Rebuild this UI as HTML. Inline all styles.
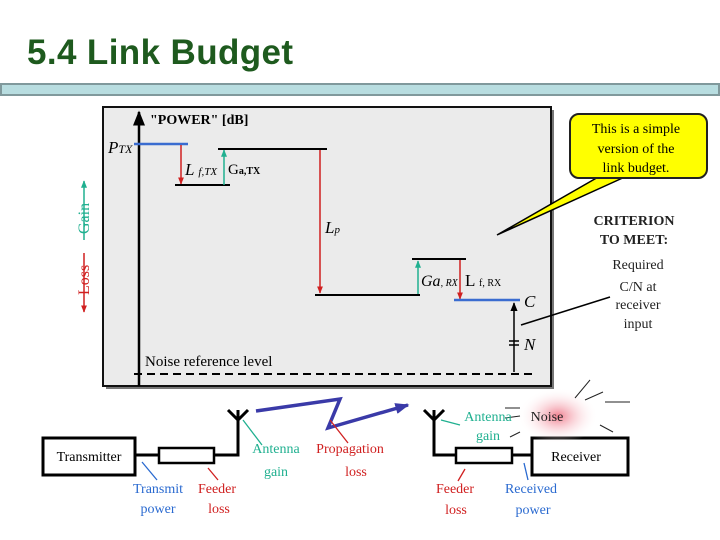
<!DOCTYPE html>
<html><head><meta charset="utf-8"><style>
body{margin:0;background:#fff;}
svg{display:block;font-family:"Liberation Serif",serif;}
</style></head><body>
<svg width="720" height="540" viewBox="0 0 720 540" xmlns="http://www.w3.org/2000/svg">
<defs>
<marker id="ar" viewBox="0 0 10 10" refX="9" refY="5" markerWidth="5" markerHeight="5" orient="auto"><path d="M0,1 L10,5 L0,9 z" fill="#d02020"/></marker>
<marker id="ag" viewBox="0 0 10 10" refX="9" refY="5" markerWidth="5" markerHeight="5" orient="auto"><path d="M0,1 L10,5 L0,9 z" fill="#20b090"/></marker>
<marker id="ak" viewBox="0 0 10 10" refX="9" refY="5" markerWidth="6" markerHeight="6" orient="auto"><path d="M0,1 L10,5 L0,9 z" fill="#000"/></marker>
<marker id="ab" viewBox="0 0 10 10" refX="9" refY="5" markerWidth="4" markerHeight="4" orient="auto"><path d="M0,1 L10,5 L0,9 z" fill="#3a3aa8"/></marker>
<radialGradient id="ng" cx="0.5" cy="0.5" r="0.5"><stop offset="0" stop-color="#f08090"/><stop offset="1" stop-color="#fff" stop-opacity="0"/></radialGradient>
</defs>
<text x="27" y="64" font-family="Liberation Sans,sans-serif" font-weight="bold" font-size="35" fill="#1e5a1e" textLength="266">5.4 Link Budget</text>
<rect x="1" y="84" width="718" height="11" fill="#b8dde0" stroke="#80999c" stroke-width="2"/>
<!-- main box -->
<rect x="106" y="110" width="448" height="279" fill="#777"/>
<rect x="103" y="107" width="448" height="279" fill="#ebebeb" stroke="#111" stroke-width="2"/>
<line x1="139" y1="386" x2="139" y2="112" stroke="#000" stroke-width="2.5" marker-end="url(#ak)"/>
<text x="150" y="124" font-size="14" font-weight="bold">"POWER" [dB]</text>
<text x="108" y="153" font-size="17" font-style="italic">P<tspan font-size="12">TX</tspan></text>
<line x1="134" y1="144" x2="188" y2="144" stroke="#3a6cd0" stroke-width="2.5"/>
<line x1="181" y1="145" x2="181" y2="184" stroke="#d02020" stroke-width="1.5" marker-end="url(#ar)"/>
<line x1="175" y1="185" x2="230" y2="185" stroke="#000" stroke-width="2"/>
<line x1="224" y1="185" x2="224" y2="150" stroke="#20b090" stroke-width="1.5" marker-end="url(#ag)"/>
<line x1="218" y1="149" x2="327" y2="149" stroke="#000" stroke-width="2"/>
<text x="185" y="175" font-size="17" font-style="italic">L <tspan font-size="11">f,TX</tspan></text>
<text x="228" y="174" font-size="15">G<tspan font-size="10" font-weight="bold">a,TX</tspan></text>
<line x1="320" y1="150" x2="320" y2="293" stroke="#d02020" stroke-width="1.5" marker-end="url(#ar)"/>
<text x="325" y="233" font-size="17" font-style="italic">L<tspan font-size="11">p</tspan></text>
<line x1="315" y1="295" x2="420" y2="295" stroke="#000" stroke-width="2"/>
<line x1="418" y1="294" x2="418" y2="261" stroke="#20b090" stroke-width="1.5" marker-end="url(#ag)"/>
<line x1="412" y1="259" x2="466" y2="259" stroke="#000" stroke-width="2"/>
<line x1="460" y1="260" x2="460" y2="299" stroke="#d02020" stroke-width="1.5" marker-end="url(#ar)"/>
<text x="421" y="286" font-size="16" font-style="italic">Ga<tspan font-size="10">, RX</tspan></text>
<text x="465" y="286" font-size="17">L <tspan font-size="10">f, RX</tspan></text>
<line x1="454" y1="300" x2="520" y2="300" stroke="#3a6cd0" stroke-width="2.5"/>
<text x="524" y="307" font-size="17" font-style="italic">C</text>
<line x1="514" y1="372" x2="514" y2="303" stroke="#000" stroke-width="1.5" marker-end="url(#ak)"/>
<line x1="509" y1="341" x2="519" y2="341" stroke="#000" stroke-width="1.5"/>
<line x1="509" y1="345" x2="519" y2="345" stroke="#000" stroke-width="1.5"/>
<text x="524" y="350" font-size="17" font-style="italic">N</text>
<line x1="134" y1="374" x2="534" y2="374" stroke="#000" stroke-width="2" stroke-dasharray="8,5"/>
<text x="145" y="366" font-size="15">Noise reference level</text>
<!-- gain/loss -->
<line x1="84" y1="240" x2="84" y2="181" stroke="#20b090" stroke-width="1.5" marker-end="url(#ag)"/>
<text transform="translate(89,234) rotate(-90)" font-size="16" fill="#20b090">Gain</text>
<line x1="84" y1="253" x2="84" y2="312" stroke="#d02020" stroke-width="1.5" marker-end="url(#ar)"/>
<text transform="translate(89,295) rotate(-90)" font-size="16" fill="#d02020">Loss</text>
<!-- callout -->
<path d="M600,176 L497,235 L627,176 Z" fill="#ffff00" stroke="#000" stroke-width="1.5"/>
<rect x="570" y="114" width="137" height="64" rx="9" fill="#ffff00" stroke="#222" stroke-width="2"/>
<path d="M602,175 L627,175" stroke="#ffff00" stroke-width="4"/>
<g font-size="14" text-anchor="middle">
<text x="636" y="133">This is a simple</text>
<text x="636" y="153">version of the</text>
<text x="636" y="172">link budget.</text>
</g>
<g font-size="14" text-anchor="middle" font-weight="bold" fill="#222">
<text x="634" y="225">CRITERION</text>
<text x="634" y="244">TO MEET:</text>
</g>
<g font-size="14" text-anchor="middle" fill="#222">
<text x="638" y="269">Required</text>
<text x="638" y="291">C/N at</text>
<text x="638" y="309">receiver</text>
<text x="638" y="328">input</text>
</g>
<line x1="521" y1="325" x2="610" y2="297" stroke="#000" stroke-width="1.5"/>
<!-- bottom -->
<rect x="43" y="438" width="92" height="37" fill="#fff" stroke="#000" stroke-width="3"/>
<text x="89" y="461" font-size="14" text-anchor="middle">Transmitter</text>
<path d="M135,455 H160 M214,455 H238 V410 M228,410 L238,420 L248,410" stroke="#000" stroke-width="3" fill="none"/>
<rect x="159" y="448" width="55" height="15" fill="#fff" stroke="#000" stroke-width="2.5"/>
<rect x="532" y="438" width="96" height="37" fill="#fff" stroke="#000" stroke-width="3"/>
<text x="576" y="461" font-size="14" text-anchor="middle">Receiver</text>
<path d="M532,455 H512 M456,455 H434 V410 M424,410 L434,420 L444,410" stroke="#000" stroke-width="3" fill="none"/>
<rect x="456" y="448" width="56" height="15" fill="#fff" stroke="#000" stroke-width="2.5"/>
<path d="M256,411 L340,399 L328,428 L408,405" stroke="#3a3aa8" stroke-width="3.5" fill="none" marker-end="url(#ab)"/>
<ellipse cx="558" cy="416" rx="40" ry="28" fill="url(#ng)"/>
<g stroke="#222" stroke-width="1">
<line x1="575" y1="398" x2="590" y2="380"/><line x1="585" y1="400" x2="603" y2="392"/><line x1="605" y1="402" x2="630" y2="402"/><line x1="600" y1="425" x2="613" y2="432"/><line x1="505" y1="408" x2="520" y2="408"/><line x1="505" y1="418" x2="520" y2="416"/><line x1="510" y1="437" x2="520" y2="432"/>
</g>
<g font-size="14">
<text x="547" y="421" text-anchor="middle" fill="#222">Noise</text>
<g fill="#20b090" text-anchor="middle"><text x="276" y="453">Antenna</text><text x="276" y="476">gain</text><text x="488" y="421">Antenna</text><text x="488" y="440">gain</text></g>
<g fill="#d02020" text-anchor="middle"><text x="350" y="453">Propagation</text><text x="356" y="476">loss</text><text x="217" y="493">Feeder</text><text x="219" y="513">loss</text><text x="455" y="493">Feeder</text><text x="456" y="514">loss</text></g>
<g fill="#2a6ad0" text-anchor="middle"><text x="158" y="493">Transmit</text><text x="158" y="513">power</text><text x="531" y="493">Received</text><text x="533" y="514">power</text></g>
</g>
<g stroke-width="1.3">
<line x1="243" y1="420" x2="262" y2="445" stroke="#20b090"/>
<line x1="441" y1="420" x2="460" y2="425" stroke="#20b090"/>
<line x1="330" y1="420" x2="348" y2="443" stroke="#d02020"/>
<line x1="208" y1="468" x2="218" y2="480" stroke="#d02020"/>
<line x1="465" y1="469" x2="458" y2="481" stroke="#d02020"/>
<line x1="142" y1="462" x2="157" y2="480" stroke="#2a6ad0"/>
<line x1="524" y1="463" x2="528" y2="480" stroke="#2a6ad0"/>
</g>
</svg>
</body></html>
